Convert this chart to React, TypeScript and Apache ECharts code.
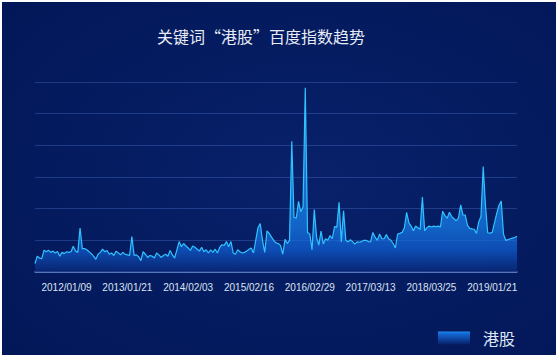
import React, { useEffect, useRef } from "react";
import * as echarts from "echarts";

const titleText = "关键词“港股”百度指数趋势";
const seriesName = "港股";

// tick labels shown on the x axis
const tickLabels = [
  "2012/01/09", "2013/01/21", "2014/02/03", "2015/02/16",
  "2016/02/29", "2017/03/13", "2018/03/25", "2019/01/21",
];
const firstTickIndex = 14;
const pointsPerTick = 27;
const pointsAfterLast = 11;

// Baidu index values
const values = [
  270, 500, 440, 420, 690, 640, 690, 620, 660, 600,
  650, 500, 620, 580, 640, 620, 640, 810, 660, 620,
  1390, 740, 740, 700, 640, 580, 500, 400, 560, 620,
  720, 640, 680, 560, 600, 520, 660, 600, 540, 620,
  560, 540, 520, 1120, 520, 540, 480, 360, 640, 560,
  460, 520, 500, 440, 600, 540, 460, 520, 560, 500,
  680, 540, 440, 700, 960, 800, 900, 820, 760, 680,
  820, 780, 720, 660, 780, 640, 700, 600, 700, 620,
  720, 600, 780, 860, 840, 960, 800, 960, 600, 560,
  700, 640, 600, 620, 660, 720, 760, 600, 1000, 1400,
  1530, 1000, 620, 1300, 1220, 1100, 1000, 920, 900, 840,
  560, 1030, 900, 1000, 4130, 1720, 1700, 2230, 1900, 2050,
  5820, 1250, 1200, 700, 1970, 1100, 850, 1290, 880, 1050,
  1000, 1150, 1050, 1430, 1420, 2200, 950, 1930, 1000, 950,
  1020, 960, 880, 950, 940, 960, 1000, 1000, 960, 950,
  1250, 1100, 1000, 1200, 1050, 1050, 1180, 1050, 1000, 900,
  760, 1200, 1220, 1250, 1400, 1880, 1550, 1450, 1300, 1450,
  1400, 1350, 2370, 1300, 1400, 1450, 1420, 1450, 1430, 1450,
  1420, 1920, 1780, 1700, 1890, 1750, 1680, 1620, 1700, 2120,
  1800, 1800, 1480, 1380, 1360, 1350, 1220, 1580, 1750, 3330,
  2100, 1240, 1230, 1250, 1550, 1850, 2100, 2240, 1200, 1000,
  1020, 1050, 1070, 1090, 1130,
];

const yMax = 6000;
const yInterval = 1000;

function fmt(d: Date): string {
  const y = d.getUTCFullYear();
  const m = String(d.getUTCMonth() + 1).padStart(2, "0");
  const dd = String(d.getUTCDate()).padStart(2, "0");
  return `${y}/${m}/${dd}`;
}
function parse(s: string): number {
  const [y, m, d] = s.split("/").map(Number);
  return Date.UTC(y, m - 1, d);
}

// category dates, anchored on the tick labels
function buildCategories(): string[] {
  const out: string[] = [];
  const day = 86400000;
  const t0 = parse(tickLabels[0]);
  for (let i = firstTickIndex; i > 0; i--) out.push(fmt(new Date(t0 - i * 14 * day)));
  let step = 14 * day;
  for (let k = 0; k < tickLabels.length - 1; k++) {
    const a = parse(tickLabels[k]);
    const b = parse(tickLabels[k + 1]);
    step = (b - a) / pointsPerTick;
    for (let j = 0; j < pointsPerTick; j++) out.push(fmt(new Date(Math.round((a + j * step) / day) * day)));
  }
  const last = parse(tickLabels[tickLabels.length - 1]);
  for (let j = 0; j <= pointsAfterLast; j++) out.push(fmt(new Date(Math.round((last + j * step) / day) * day)));
  return out;
}

const categories = buildCategories();

export default function App() {
  const ref = useRef<HTMLDivElement>(null);
  useEffect(() => {
    document.body.style.margin = "0";
    document.body.style.background = "#ffffff";
    if (!ref.current) return;
    const chart = echarts.init(ref.current, null, { renderer: "svg" });
    const lineColor = "#30c2ff";
    chart.setOption({
      animation: false,
      backgroundColor: {
        type: "radial",
        x: 0.55,
        y: 0.5,
        r: 0.8,
        colorStops: [
          { offset: 0, color: "#08216a" },
          { offset: 1, color: "#011656" },
        ],
      },
      title: {
        text: titleText,
        left: 155,
        top: 26,
        padding: 0,
        textStyle: {
          color: "#e8ecf6",
          fontSize: 16,
          fontWeight: "normal",
          fontFamily: "Noto Sans CJK SC",
        },
      },
      legend: {
        left: 436,
        top: 328,
        padding: 0,
        icon: "rect",
        itemWidth: 32,
        itemHeight: 13,
        data: [seriesName],
        textStyle: {
          color: "#dfe5f2",
          fontSize: 16,
          fontFamily: "Noto Sans CJK SC",
          padding: [0, 0, 0, 8],
        },
      },
      grid: { left: 33, right: 39, top: 80, bottom: 83 },
      xAxis: {
        type: "category",
        boundaryGap: false,
        data: categories,
        axisTick: { show: false },
        axisLine: { lineStyle: { color: "#6a89d0", width: 1.5 } },
        axisLabel: {
          color: "#dde3f0",
          fontSize: 10,
          fontFamily: "Liberation Sans, Arial",
          margin: 10,
          interval: (index: number) =>
            index >= firstTickIndex && (index - firstTickIndex) % pointsPerTick === 0,
        },
      },
      yAxis: {
        type: "value",
        min: 0,
        max: yMax,
        interval: yInterval,
        axisLabel: { show: false },
        axisLine: { show: false },
        axisTick: { show: false },
        splitLine: { lineStyle: { color: "rgba(80,120,210,0.35)", width: 1 } },
      },
      series: [
        {
          name: seriesName,
          type: "line",
          data: values,
          symbol: "none",
          showSymbol: false,
          lineStyle: { color: lineColor, width: 1.2 },
          itemStyle: {
            color: {
              type: "linear",
              x: 0, y: 0, x2: 0, y2: 1,
              colorStops: [
                { offset: 0, color: "#1f8ef2" },
                { offset: 0.15, color: "#146ad8" },
                { offset: 1, color: "#072068" },
              ],
            },
          },
          areaStyle: {
            color: {
              type: "linear",
              x: 0, y: 0, x2: 0, y2: 1,
              colorStops: [
                { offset: 0, color: "#2ab2ff" },
                { offset: 0.75, color: "#1782f0" },
                { offset: 0.88, color: "#1160d6" },
                { offset: 1, color: "#0a2878" },
              ],
            },
          },
        },
      ],
    });
    return () => chart.dispose();
  }, []);
  return (
    <div style={{ width: 558, height: 357, background: "#fff", position: "relative" }}>
      <div
        ref={ref}
        style={{ position: "absolute", left: 2, top: 2, width: 554, height: 353 }}
      />
    </div>
  );
}
